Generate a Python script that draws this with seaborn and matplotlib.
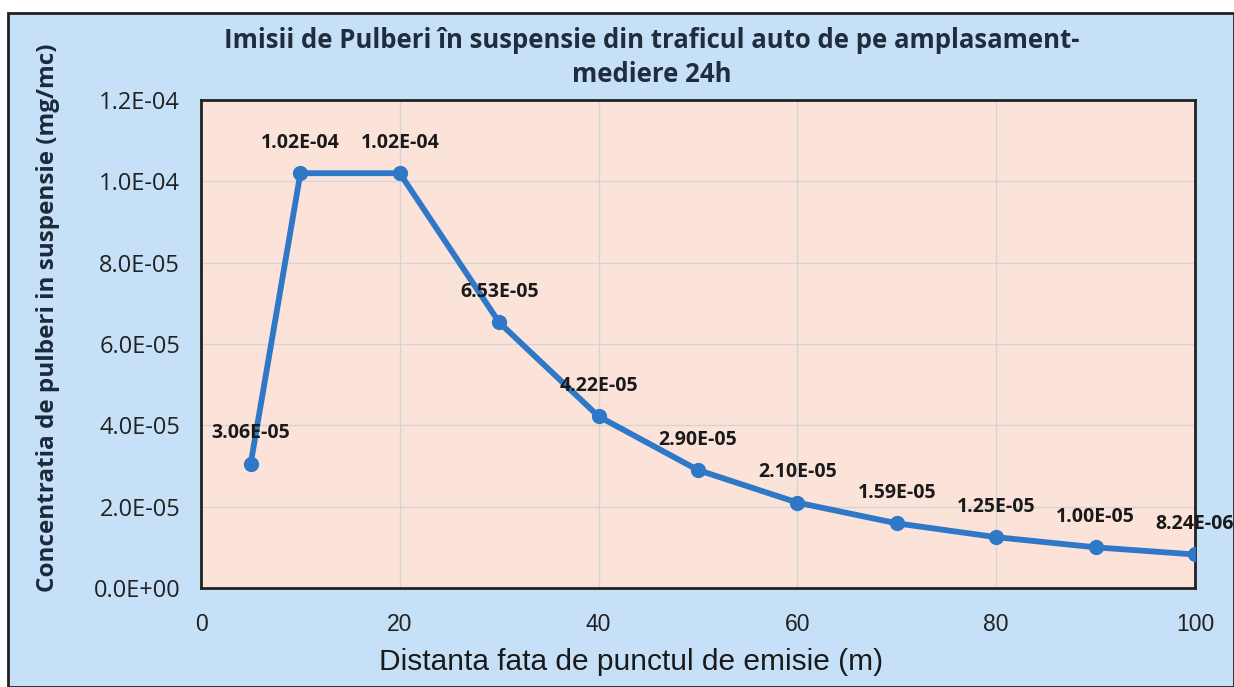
import numpy as np
import pandas as pd
import matplotlib.pyplot as plt
import seaborn as sns
from matplotlib.patches import Rectangle

# Date
distanta = [5, 10, 20, 30, 40, 50, 60, 70, 80, 90, 100]
concentratie = [3.06e-5, 1.02e-4, 1.02e-4, 6.53e-5, 4.22e-5, 2.90e-5,
                2.10e-5, 1.59e-5, 1.25e-5, 1.00e-5, 8.24e-6]
etichete = ['3.06E-05', '1.02E-04', '1.02E-04', '6.53E-05', '4.22E-05', '2.90E-05',
            '2.10E-05', '1.59E-05', '1.25E-05', '1.00E-05', '8.24E-06']
yticks = [0, 2e-5, 4e-5, 6e-5, 8e-5, 1e-4, 1.2e-4]
ytick_labels = ['0.0E+00', '2.0E-05', '4.0E-05', '6.0E-05', '8.0E-05', '1.0E-04', '1.2E-04']
xticks = [0, 20, 40, 60, 80, 100]

df = pd.DataFrame({'distanta': distanta, 'concentratie': concentratie})

sns.set_style('white')
plt.rcParams['font.family'] = ['Open Sans', 'DejaVu Sans']

fig = plt.figure(figsize=(12.34, 6.87), dpi=100)
fig.patch.set_facecolor('white')
# fundal albastru + chenar negru
fig.add_artist(Rectangle((8 / 1234, 0), 1 - 8 / 1234, 1 - 13 / 687,
                         transform=fig.transFigure, facecolor='#c6e0f7',
                         edgecolor='#222222', linewidth=2, zorder=-5))

ax = fig.add_axes([201 / 1234, 1 - 588 / 687, 994 / 1234, 488 / 687])
ax.set_zorder(2)
ax.set_facecolor('#fbe3da')

sns.lineplot(data=df, x='distanta', y='concentratie', ax=ax, color='#2f78c8',
             linewidth=4.2, marker='o', markersize=11, markeredgewidth=0, zorder=3)

for x, y, t in zip(distanta, concentratie, etichete):
    ax.annotate(t, (x, y), xytext=(0, 22), textcoords='offset points',
                ha='center', va='center', fontsize=14, fontweight='bold',
                color='#1a1a1a', zorder=4)

ax.set_xlim(0, 100)
ax.set_ylim(0, 1.2e-4)
ax.set_xticks(xticks)
ax.set_yticks(yticks)
ax.set_yticklabels(ytick_labels, fontsize=17, color='#222222')
ax.set_xticklabels([str(v) for v in xticks], fontsize=16.5, color='#222222',
                   family='Liberation Sans')
ax.grid(True, color='#d4d4d4', linewidth=1)
ax.tick_params(axis='both', direction='inout', length=12, width=2, color='#222222')
ax.tick_params(axis='x', pad=12)
ax.tick_params(axis='y', pad=9)
for s in ax.spines.values():
    s.set_color('#222222')
    s.set_linewidth(2)

ax.set_xlabel('Distanta fata de punctul de emisie (m)', fontsize=21.5,
              family='Liberation Sans', color='#1a1a1a')
ax.xaxis.set_label_coords((631 - 201) / 994, -(648 - 588) / 488)
ax.set_ylabel('Concentratia de pulberi in suspensie (mg/mc)', fontsize=17.5,
              fontweight='bold', color='#1a2a3a')
ax.yaxis.set_label_coords((60 - 201) / 994, (588 - 318) / 488)

fig.text(652 / 1234, 1 - 40 / 687, 'Imisii de Pulberi în suspensie din traficul auto de pe amplasament-',
         ha='center', va='center', fontsize=18.5, fontweight='bold', color='#1f2d3d')
fig.text(652 / 1234, 1 - 75 / 687, 'mediere 24h',
         ha='center', va='center', fontsize=18.5, fontweight='bold', color='#1f2d3d')

fig.savefig('out.png', dpi=100, facecolor=fig.get_facecolor())
